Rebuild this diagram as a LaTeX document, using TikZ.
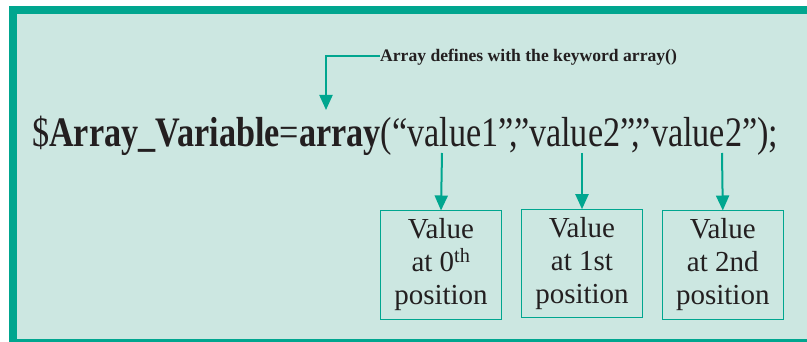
\documentclass[tikz,border=0pt]{standalone}
\usepackage{fontspec}
\setmainfont{Liberation Serif}
\usetikzlibrary{arrows.meta}
\definecolor{tealb}{RGB}{0,166,143}
\definecolor{tealbg}{RGB}{204,231,225}
\definecolor{ink}{RGB}{35,31,32}
\newlength\codewidth
\newcommand\codeline{\$\textbf{Array\_Variable}=\textbf{array}(“value1”\kern-0.12em,\kern-0.12em”value2”\kern-0.12em,\kern-0.12em”value2”);}
\tikzset{
  conn/.style={draw=tealb, line width=2pt, -{Triangle[length=15pt,width=13pt]}},
  valbox/.style={draw=tealb, line width=1pt, minimum width=121pt, minimum height=108pt, inner sep=0pt, align=center, font=\fontsize{29}{33}\selectfont, text=ink},
}
\begin{document}
\settowidth\codewidth{\fontsize{42}{48}\selectfont\codeline}%
\pgfmathsetmacro\codesx{746/\codewidth}%
\begin{tikzpicture}[x=1pt,y=-1pt]
\useasboundingbox (0,0) rectangle (807,342);
\fill[tealbg] (9,6) rectangle (807,342);
\fill[tealb] (9,6) rectangle (807,14);
\fill[tealb] (9,6) rectangle (17,342);
\fill[tealb] (9,339) rectangle (807,342);
% annotation
\node[anchor=base west, inner sep=0pt, text=ink, font=\fontsize{17.6}{20}\selectfont\bfseries] (note) at (380,61.5) {Array defines with the keyword array()};
\coordinate (tip) at (326,110);
% main text
\node[anchor=base west, inner sep=0pt, text=ink, font=\fontsize{42}{48}\selectfont] (code) at (32,147)
  {\scalebox{\codesx}[1]{\codeline}};
\coordinate (s0) at (442,153);
\coordinate (s1) at (582,153);
\coordinate (s2) at (722,153);
\node[valbox] (b0) at (441,265) {Value\\at 0\textsuperscript{th}\\position};
\node[valbox] (b1) at (582,263.7) {Value\\at 1st\\position};
\node[valbox] (b2) at (722.8,265) {Value\\at 2nd\\position};
\draw[conn] (note.west |- 0,55.7) -| (tip);
\draw[conn] (s0) -- (b0.north);
\draw[conn] (s1) -- (b1.north);
\draw[conn] (s2) -- (b2.north);
\end{tikzpicture}
\end{document}
